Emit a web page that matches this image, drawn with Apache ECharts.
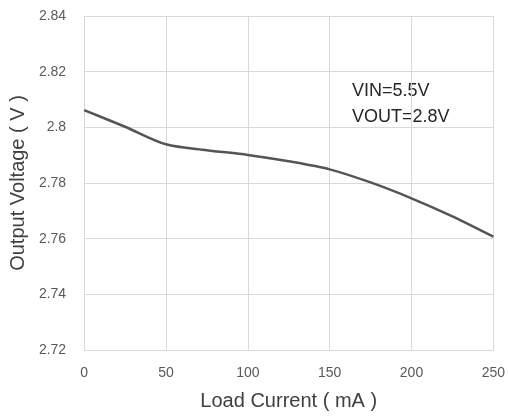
<!DOCTYPE html>
<html><head><meta charset="utf-8">
<script src="https://cdn.jsdelivr.net/npm/echarts@6/dist/echarts.min.js"></script>
<style>html,body{margin:0;padding:0;background:#fff}#c{width:508px;height:417px}</style>
</head><body><div id="c"></div>
<script>
var loadCurrent = [0, 25, 50, 75, 100, 125, 150, 175, 200, 225, 250];
var outputVoltage = [2.8062, 2.8002, 2.7939, 2.7918, 2.7901, 2.7878, 2.7849, 2.7802, 2.7745, 2.7680, 2.7607];
var xTitle = 'Load Current ( mA )';
var yTitle = 'Output Voltage ( V )';
var noteLines = ['VIN=5.5V', 'VOUT=2.8V'];

var chart = echarts.init(document.getElementById('c'));
chart.setOption({
  animation: false,
  backgroundColor: '#fff',
  grid: {left: 83, right: 12, top: 16, bottom: 67},
  xAxis: {
    type: 'value', min: 0, max: 250, interval: 50,
    name: xTitle, nameLocation: 'middle', nameGap: 41,
    nameTextStyle: {fontFamily: 'Liberation Sans', fontSize: 20, color: '#404040'},
    axisLine: {show: true, lineStyle: {color: '#d9d9d9', width: 1}},
    axisTick: {show: false},
    axisLabel: {fontFamily: 'Liberation Sans', fontSize: 14, color: '#595959', margin: 16},
    splitLine: {show: true, lineStyle: {color: '#d9d9d9', width: 1}}
  },
  yAxis: {
    type: 'value', min: 2.72, max: 2.84, interval: 0.02,
    name: yTitle, nameLocation: 'middle', nameGap: 51,
    nameTextStyle: {fontFamily: 'Liberation Sans', fontSize: 20, color: '#404040'},
    axisLine: {show: true, lineStyle: {color: '#d9d9d9', width: 1}},
    axisTick: {show: false},
    axisLabel: {fontFamily: 'Liberation Sans', fontSize: 14, color: '#595959', margin: 18,
      formatter: function (v) { return String(parseFloat(v.toFixed(2))); }},
    splitLine: {show: true, lineStyle: {color: '#d9d9d9', width: 1}}
  },
  graphic: [{
    type: 'text', left: 352, top: 78,
    style: {text: noteLines.join('\n'), fontFamily: 'Liberation Sans', fontSize: 18, lineHeight: 26, fill: '#262626'}
  }],
  series: [{
    type: 'line',
    data: loadCurrent.map(function (x, i) { return [x, outputVoltage[i]]; }),
    smooth: 0.3,
    showSymbol: false,
    lineStyle: {color: '#555555', width: 2.5}
  }]
});
</script></body></html>
